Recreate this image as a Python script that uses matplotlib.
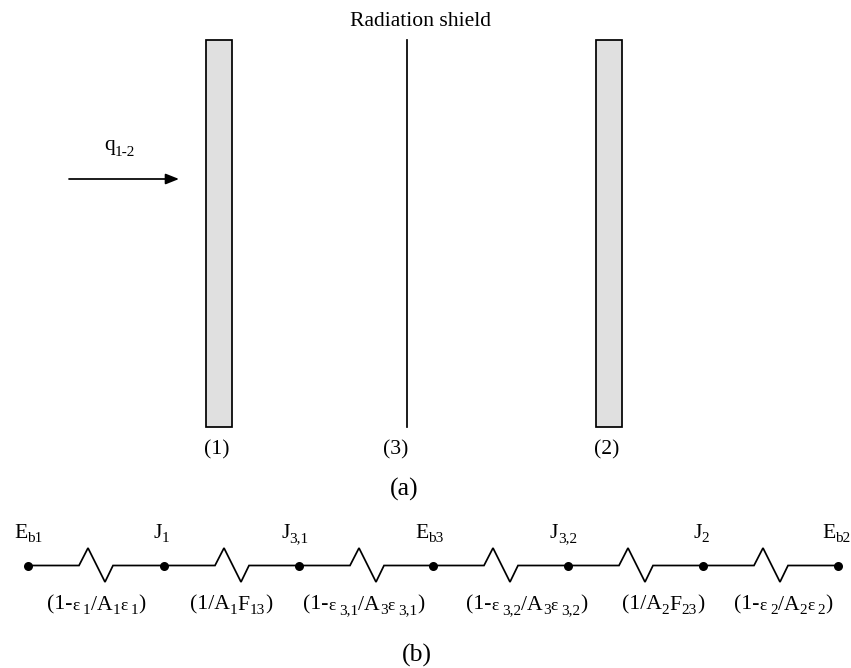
import matplotlib
matplotlib.use("Agg")
import matplotlib.pyplot as plt
from matplotlib.patches import Rectangle

plt.rcParams['font.family'] = ['Liberation Serif', 'DejaVu Serif']
W, H = 851, 668
fig = plt.figure(figsize=(W/100, H/100), dpi=100)
ax = fig.add_axes([0, 0, 1, 1])
ax.set_xlim(0, W); ax.set_ylim(H, 0); ax.axis('off')

LW = 1.25
FS = 15.6
SUB = 11.0
EPS = 12.5
GAP = 3.5

plates_x = [205.5, 596]
plate_w = 26
plate_top, plate_bottom = 40, 427
shield_x = 407
plate_labels = [("(1)", 217, 454), ("(3)", 396, 454), ("(2)", 607, 454)]
nodes_x = [28, 164, 299, 433, 568, 703, 838]
net_y = 565.5
zig_dx = [51, 60, 77, 85]
zig_dy = [0, -17.5, 16.5, 0]
node_labels = [
    (14, [("E", 0), ("b1", 1)]),
    (153, [("J", 0), ("1", 1)]),
    (281, [("J", 0), ("3,1", 1)]),
    (415, [("E", 0), ("b3", 1)]),
    (550, [("J", 0), ("3,2", 1)]),
    (693, [("J", 0), ("2", 1)]),
    (822, [("E", 0), ("b2", 1)]),
]
res_labels = [
    (47, [("(1-", 0), ("ε", 2), (" 1", 1), ("/A", 0), ("1", 1), ("ε", 2), (" 1", 1), (")", 0)]),
    (190, [("(1/A", 0), ("1", 1), ("F", 0), ("13", 1), (")", 0)]),
    (303, [("(1-", 0), ("ε", 2), (" 3,1", 1), ("/A", 0), ("3", 1), ("ε", 2), (" 3,1", 1), (")", 0)]),
    (466, [("(1-", 0), ("ε", 2), (" 3,2", 1), ("/A", 0), ("3", 1), ("ε", 2), (" 3,2", 1), (")", 0)]),
    (622, [("(1/A", 0), ("2", 1), ("F", 0), ("23", 1), (")", 0)]),
    (734, [("(1-", 0), ("ε", 2), (" 2", 1), ("/A", 0), ("2", 1), ("ε", 2), (" 2", 1), (")", 0)]),
]

fig.canvas.draw()
rend = fig.canvas.get_renderer()

def runs(x, y, parts, drop=4.5):
    for s, kind in parts:
        size = {0: FS, 1: SUB, 2: EPS}[kind]
        if s.startswith(' '):
            x += GAP
            s = s.strip()
        t = ax.text(x, y + (drop if kind == 1 else 0), s, fontsize=size, ha='left',
                    va='baseline', color='black')
        w, _, _ = rend.get_text_width_height_descent(s, t.get_fontproperties(), False)
        x += w

for px in plates_x:
    ax.add_patch(Rectangle((px, plate_top), plate_w, plate_bottom - plate_top,
                           facecolor='#e0e0e0', edgecolor='black', lw=LW))
ax.plot([shield_x, shield_x], [plate_top, plate_bottom], color='black', lw=LW)

ax.annotate('', xy=(179, 179), xytext=(69, 179),
            arrowprops=dict(arrowstyle='-|>,head_length=0.8,head_width=0.32',
                            color='black', lw=LW, shrinkA=0, shrinkB=0))
runs(104, 150, [("q", 0), ("1-2", 1)], drop=6)
ax.text(420.5, 26, "Radiation shield", fontsize=FS, ha='center', va='baseline')
for s, x, y in plate_labels:
    ax.text(x, y, s, fontsize=FS, ha='center', va='baseline')
ax.text(404, 496, "(a)", fontsize=18.5, ha='center', va='baseline')
ax.text(417, 662, "(b)", fontsize=18.5, ha='center', va='baseline')

xs, ys = [nodes_x[0]], [net_y]
for nx in nodes_x[:-1]:
    for d, e in zip(zig_dx, zig_dy):
        xs.append(nx + d); ys.append(net_y + e)
xs.append(nodes_x[-1]); ys.append(net_y)
ax.plot(xs, ys, color='black', lw=LW, solid_joinstyle='miter')
ax.plot(nodes_x, [net_y]*len(nodes_x), 'o', color='black', ms=6.5, mew=0)

for x, parts in node_labels:
    runs(x, 537.5, parts)
for x, parts in res_labels:
    runs(x, 609.5, parts)

fig.savefig("out.png", dpi=100)
